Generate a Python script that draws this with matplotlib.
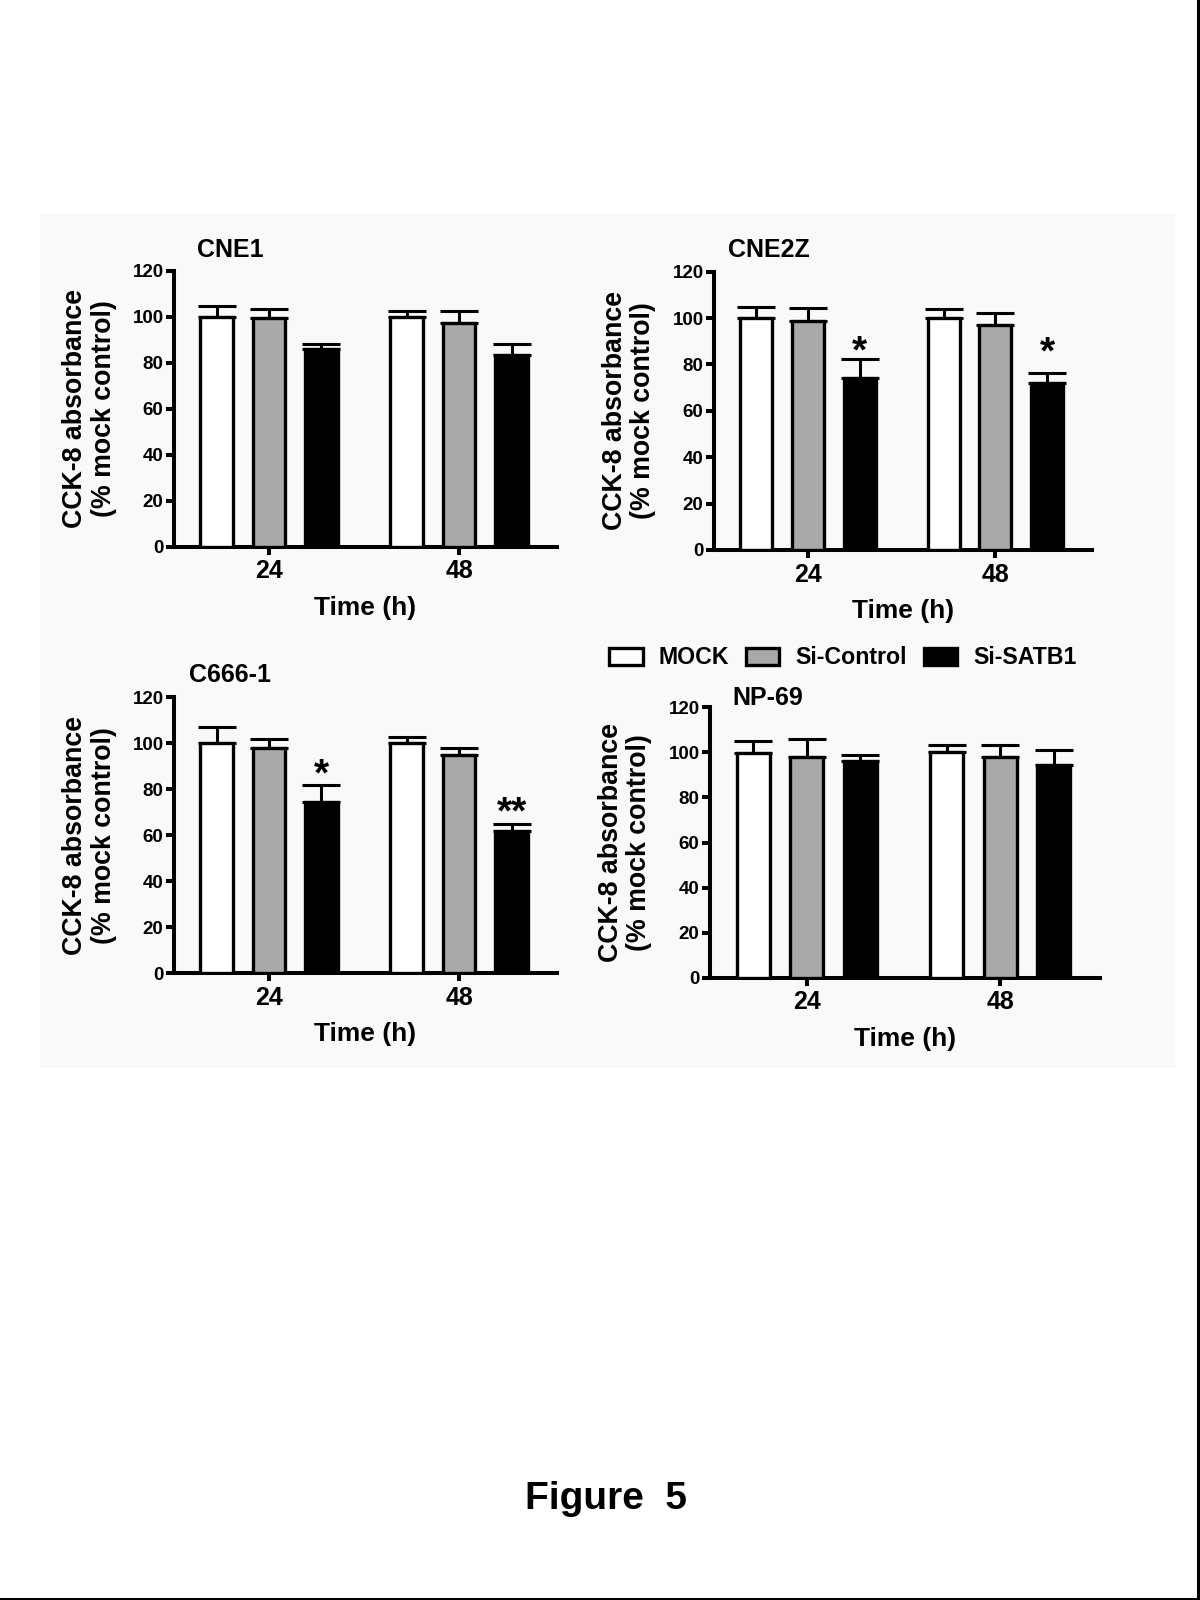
import matplotlib
matplotlib.use('Agg')
import matplotlib.pyplot as plt
import matplotlib.patches as patches
import matplotlib.lines as mlines
from matplotlib.transforms import offset_copy
import numpy as np

plt.rcParams['font.family'] = ['Liberation Sans', 'DejaVu Sans']
plt.rcParams['font.weight'] = 'bold'
plt.rcParams['axes.labelweight'] = 'bold'

# data
times = ['24', '48']
groups = ['MOCK', 'Si-Control', 'Si-SATB1']
panels = ['CNE1', 'CNE2Z', 'C666-1', 'NP-69']

cne1_mean = [[100, 100], [99.3, 97.4], [85.8, 83.3]]
cne1_err = [[4.6, 2.6], [4.2, 5.2], [2.3, 4.8]]
cne2z_mean = [[100, 100], [98.7, 96.9], [74.0, 72.1]]
cne2z_err = [[4.6, 3.8], [5.5, 5.1], [8.5, 4.2]]
c666_mean = [[100, 100], [97.8, 94.9], [74.6, 62.0]]
c666_err = [[7.0, 2.6], [4.1, 2.9], [7.4, 2.9]]
np69_mean = [[99.9, 100], [98.1, 98.1], [96.2, 94.4]]
np69_err = [[5.2, 3.3], [8.0, 5.2], [2.6, 6.6]]

# significance marks: (time index, label, y of mark centre)
cne2z_stars = [(0, '*', 89.0), (1, '*', 88.4)]
c666_stars = [(0, '*', 89.8), (1, '**', 73.2)]

means = [cne1_mean, cne2z_mean, c666_mean, np69_mean]
errs = [cne1_err, cne2z_err, c666_err, np69_err]
stars = [[], cne2z_stars, c666_stars, []]

colors = ['white', '#a9a9a9', 'black']

W, H = 1200, 1600
fig = plt.figure(figsize=(12, 16), dpi=100)

# light grey panel behind the plots + page border
fig.patches.append(patches.Rectangle((40 / W, 1 - 1068 / H), 1135 / W, 855 / H,
                                     transform=fig.transFigure, facecolor='#f9f9f9',
                                     edgecolor='none', zorder=-5))
fig.lines.append(mlines.Line2D([1198 / W, 1198 / W], [0, 1], transform=fig.transFigure,
                               color='black', lw=2.2))
fig.lines.append(mlines.Line2D([0, 1], [1.5 / H, 1.5 / H], transform=fig.transFigure,
                               color='black', lw=2.2))

# axes boxes in pixels: x0, x1, ytop, ybottom
boxes = [(174, 557, 270.7, 546.7), (714, 1092, 271.7, 550),
         (174, 557, 697.3, 973.3), (710, 1100, 707.3, 977.7)]
titles_xy = [(197, 250), (728, 250), (189, 675), (732, 698)]

x = np.arange(len(times))
offsets = [-0.276, 0, 0.276]
bw = 0.17
handles = []

for i, (x0, x1, yt, yb) in enumerate(boxes):
    ax = fig.add_axes([x0 / W, 1 - yb / H, (x1 - x0) / W, (yb - yt) / H])
    ax.patch.set_alpha(0)
    for j, g in enumerate(groups):
        m = np.array(means[i][j])
        e = np.array(errs[i][j])
        ax.errorbar(x + offsets[j], m, yerr=[np.zeros_like(e), e], fmt='none',
                    ecolor='black', elinewidth=2.2, capsize=14, capthick=2.2, zorder=2)
        b = ax.bar(x + offsets[j], m, bw, color=colors[j], edgecolor='black',
                   linewidth=2.4, zorder=3, label=g)
        if i == 0:
            handles.append(b)
    # stars: baseline shifted so the glyph centre sits on the given value
    for (t, s, yv) in stars[i]:
        tr = offset_copy(ax.transData, fig=fig, y=-13.5, units='points')
        ax.text(x[t] + offsets[2], yv, s, ha='center', va='baseline', fontsize=28,
                transform=tr, zorder=4)
    ax.set_xlim(-0.5, 1.515)
    ax.set_ylim(0, 120)
    ax.set_yticks(range(0, 121, 20))
    ax.set_xticks(x)
    ax.set_xticklabels(times, fontsize=18)
    ax.tick_params(axis='y', labelsize=13.5, length=6, width=2.9, pad=1.5)
    ax.tick_params(axis='x', length=6, width=2.9, pad=3)
    for sp in ['top', 'right']:
        ax.spines[sp].set_visible(False)
    for sp in ['left', 'bottom']:
        ax.spines[sp].set_linewidth(2.9)
    ax.set_xlabel('Time (h)', fontsize=19, labelpad=9)
    lab = ax.set_ylabel('CCK-8 absorbance\n(% mock control)', fontsize=19.3,
                        linespacing=1.15)
    lab.set_va('center')
    ax.yaxis.set_label_coords(-85 / (x1 - x0), 0.5)
    tx, ty = titles_xy[i]
    fig.text(tx / W, 1 - ty / H, panels[i], ha='left', va='center', fontsize=18)

fig.legend(handles, groups, loc='center left', bbox_to_anchor=(609 / W, 1 - 658 / H),
           ncol=3, frameon=False, borderpad=0, borderaxespad=0, handlelength=1.45,
           handleheight=0.72, handletextpad=0.68, columnspacing=0.73,
           prop={'weight': 'bold', 'size': 16.7})

fig.text(606 / W, 1 - 1499 / H, 'Figure  5', ha='center', va='center', fontsize=28)

fig.savefig('out.png', dpi=100, facecolor='white')
